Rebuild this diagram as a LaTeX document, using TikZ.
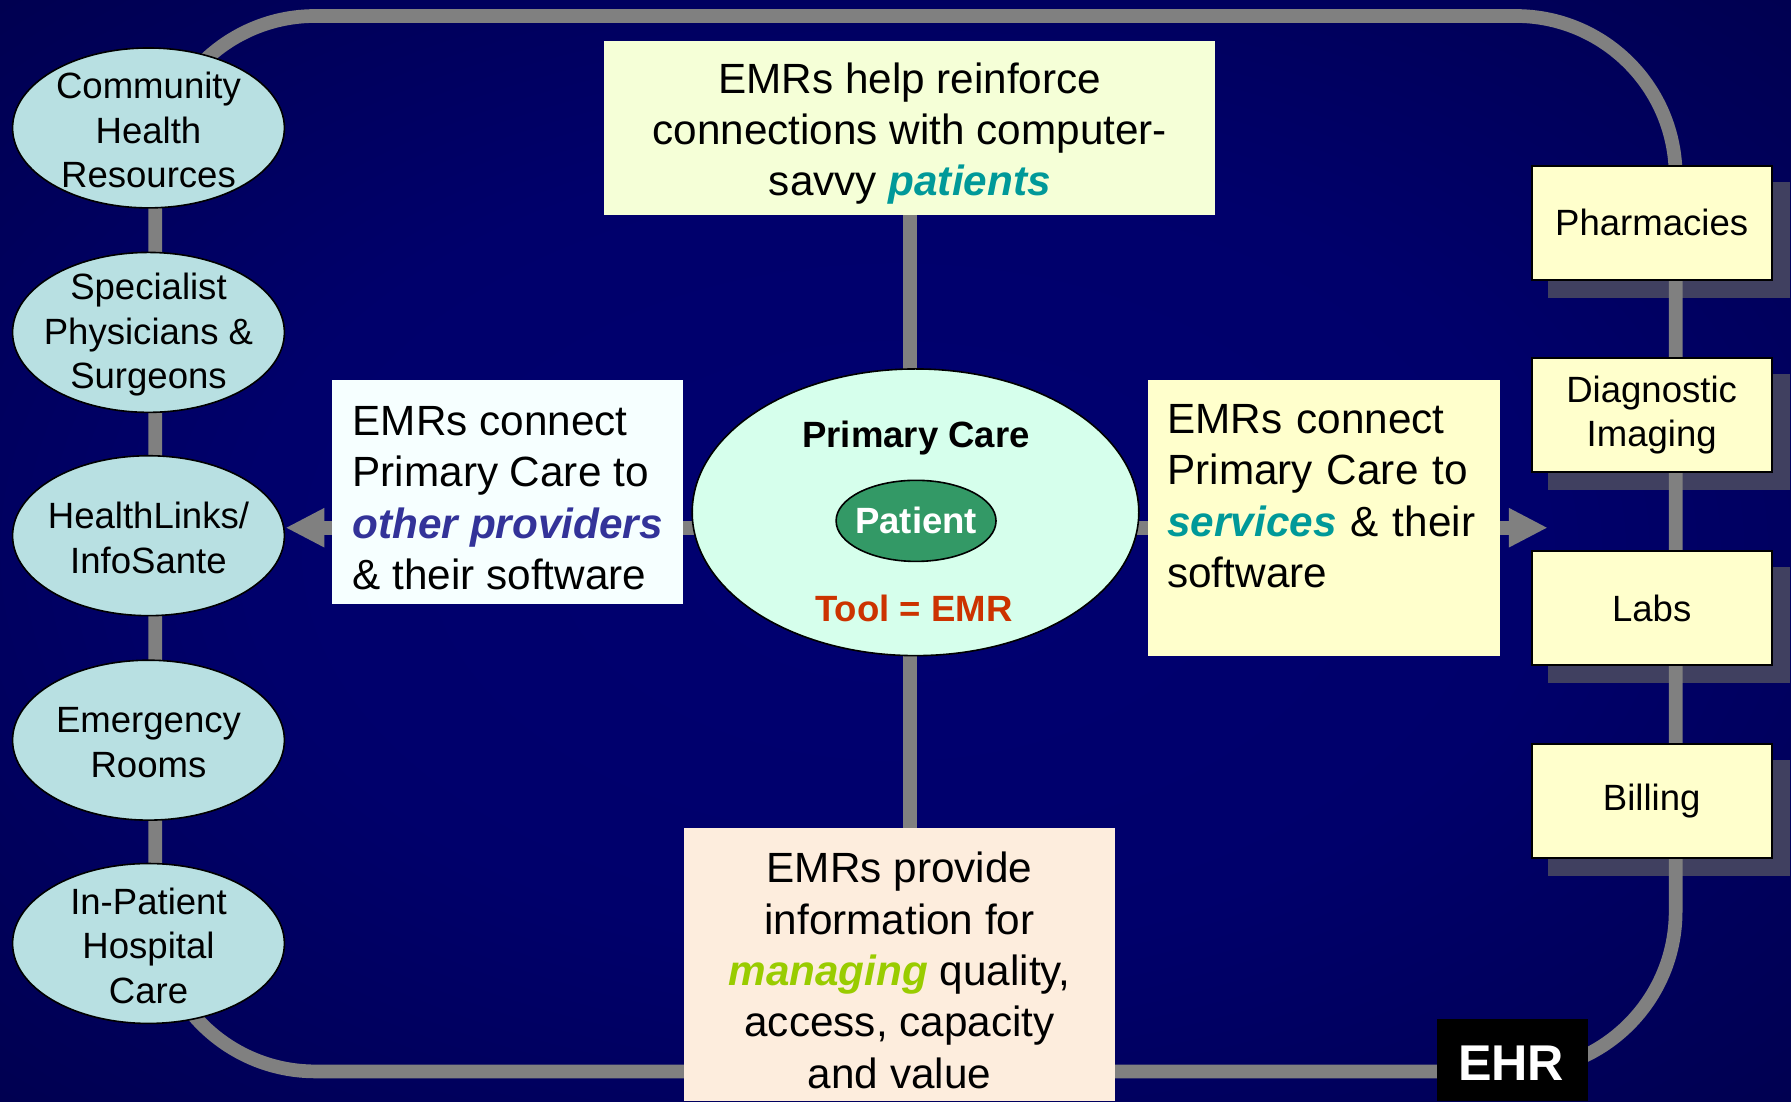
\documentclass[tikz,border=0pt]{standalone}
\usepackage{fontspec}
\setmainfont{Liberation Sans}
\usetikzlibrary{shapes.geometric,arrows.meta,calc}
\pgfdeclarelayer{bgl}
\pgfdeclarelayer{shadl}
\pgfdeclarelayer{linel}
\pgfsetlayers{bgl,shadl,linel,main}
\pgfdeclareradialshading{bgshade}{\pgfpoint{0bp}{0bp}}{rgb(0bp)=(0,0,0.44);rgb(18bp)=(0,0,0.42);rgb(50bp)=(0,0,0.23);rgb(72bp)=(0,0,0.12)}
\definecolor{ellc}{RGB}{184,224,226}
\definecolor{boxy}{RGB}{255,255,204}
\definecolor{topc}{RGB}{245,255,215}
\definecolor{lboxc}{RGB}{246,255,255}
\definecolor{botc}{RGB}{253,237,221}
\definecolor{pcc}{RGB}{214,255,236}
\definecolor{patc}{RGB}{51,153,102}
\definecolor{linegray}{RGB}{128,128,128}
\definecolor{provc}{RGB}{51,51,153}
\definecolor{servc}{RGB}{0,153,153}
\definecolor{mngc}{RGB}{153,204,0}
\definecolor{toolc}{RGB}{204,51,0}
\definecolor{shadc}{RGB}{64,64,96}
\begin{document}
\begin{tikzpicture}[x=0.5pt,y=-0.5pt,
  leftell/.style={ellipse, draw=black, line width=0.7pt, fill=ellc, minimum width=119pt, minimum height=70pt, inner sep=0pt},
  eltext/.style={font=\fontsize{16}{19.5}\selectfont, align=center, inner sep=0pt, yshift=-1pt},
  rbox/.style={rectangle, draw=black, line width=0.8pt, fill=boxy, minimum width=105pt, minimum height=50pt, inner sep=0pt, font=\fontsize{16}{19.5}\selectfont, align=center},
  bigtext/.style={font=\fontsize{18.5}{22.5}\selectfont, inner sep=0pt},
  txtonly/.style={font=\fontsize{18.5}{22.5}\selectfont, inner sep=0pt, yshift=-2.5pt},
  conn/.style={draw=linegray, line width=6pt},
  arr/.style={conn, -{Triangle[length=17pt,width=16pt]}},
  onel/.style={inner sep=0pt, text depth=0pt}
]
\useasboundingbox (0,0) rectangle (1568,964);
\begin{pgfonlayer}{bgl}
\shade[shading=bgshade] (0,0) rectangle (1568,964);
\end{pgfonlayer}

% left ellipses
\node[leftell] (comm) at (130,112) {};
\node[eltext] (commt) at (comm) {Community\\Health\\Resources};
\node[leftell] (spec) at (130,291) {};
\node[eltext] (spect) at (spec) {Specialist\\Physicians \&\\Surgeons};
\node[leftell] (hlink) at (130,469) {};
\node[eltext] (hlinkt) at (hlink) {HealthLinks/\\InfoSante};
\node[leftell] (emer) at (130,648) {};
\node[eltext] (emert) at (emer) {Emergency\\Rooms};
\node[leftell] (inpat) at (130,826) {};
\node[eltext] (inpatt) at (inpat) {In-Patient\\Hospital\\Care};

% right boxes
\node[rbox] (pharm) at (1446,195) {Pharmacies};
\node[rbox] (diag) at (1446,363.5) {Diagnostic\\Imaging};
\node[rbox] (labs) at (1446,532.5) {Labs};
\node[rbox] (bill) at (1446,701.5) {Billing};

% central text boxes
\node[bigtext, fill=topc, minimum width=267.5pt, minimum height=76pt] (topbox) at (796.5,112) {};
\node[txtonly, align=center] (topt) at (topbox)
  {EMRs help reinforce\\connections with computer-\\savvy {\bfseries\itshape\color{servc}patients}};
\node[bigtext, fill=lboxc, minimum width=153.5pt, minimum height=98pt] (lbox) at (444.5,431) {};
\node[txtonly, align=left] (lboxt) at (lbox)
  {EMRs connect\\Primary Care to\\{\bfseries\itshape\color{provc}other providers}\\\& their software};
\node[bigtext, fill=boxy, minimum width=154pt, minimum height=120.5pt] (rbox) at (1159,453.5) {};
\node[txtonly, text width=137pt, align=left, anchor=north west, yshift=0pt] (rboxt) at ($(rbox.north west)+(17,16)$)
  {EMRs connect\\Primary Care to\\{\bfseries\itshape\color{servc}services} \& their\\software};
\node[bigtext, fill=botc, minimum width=188.5pt, minimum height=119.5pt] (botbox) at (787.5,844.5) {};
\node[txtonly, align=center] (bott) at (botbox)
  {EMRs provide\\information for\\{\bfseries\itshape\color{mngc}managing} quality,\\access, capacity\\and value};

% primary care
\node[ellipse, draw=black, line width=0.7pt, fill=pcc, minimum width=195.5pt, minimum height=125.5pt, inner sep=0pt] (pc) at (801.5,448.5) {};
\node[onel, font=\bfseries\fontsize{16}{19}\selectfont, text height=11.5pt] (pct) at (802,380) {Primary Care};
\node[ellipse, draw=black, line width=0.7pt, fill=patc, minimum width=70pt, minimum height=35.5pt, inner sep=0pt] (pat) at (802,456) {};
\node[onel, font=\bfseries\fontsize{16}{19}\selectfont, text height=11.5pt, text=white] (patt) at (pat) {Patient};
\node[onel, font=\bfseries\fontsize{16}{19}\selectfont, text height=11.5pt, text=toolc] (tool) at (800,533) {Tool = EMR};

% EHR
\node[fill=black, minimum width=66pt, minimum height=36pt, inner sep=0pt] (ehr) at (1324,928) {};
\node[onel, font=\bfseries\fontsize{22}{26}\selectfont, text height=15.8pt, text=white] (ehrt) at (1323,930) {EHR};

% shadows
\begin{pgfonlayer}{shadl}
\foreach \b in {pharm,diag,labs,bill}{
  \fill[shadc] ($(\b.north west)+(15,15)$) rectangle ($(\b.south east)+(15,15)$);
}
\end{pgfonlayer}

% connectors
\coordinate (ltip) at (250,462);
\coordinate (rtip) at (1355,462);
\begin{pgfonlayer}{linel}
\draw[conn, rounded corners=70pt] (136,14) rectangle (1467,938);
\draw[conn] (topbox.center) -- (topbox.center |- botbox.center);
\draw[arr] (pc.center |- ltip) -- (ltip);
\draw[arr] (pc.center |- rtip) -- (rtip);
\end{pgfonlayer}
\end{tikzpicture}
\end{document}
